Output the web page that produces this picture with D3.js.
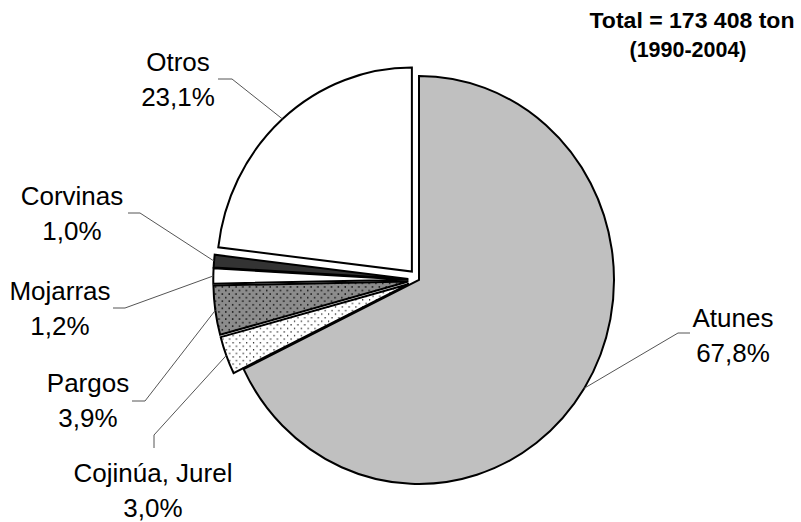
<!DOCTYPE html>
<html>
<head>
<meta charset="utf-8">
<script src="https://cdn.jsdelivr.net/npm/d3@7"></script>
<style>
  body { margin: 0; background: #fff; }
  text { font-family: "Liberation Sans", Arial, sans-serif; fill: #000; }
</style>
</head>
<body>
<div id="chart"></div>
<script>
// categories and shares (percent), clockwise from 12 o'clock
const species = ["Atunes", "Cojinúa, Jurel", "Pargos", "Mojarras", "Corvinas", "Otros"];
const shares = [67.8, 3.0, 3.9, 1.2, 1.0, 23.1];
const shareLabels = ["67,8%", "3,0%", "3,9%", "1,2%", "1,0%", "23,1%"];
const exploded = [false, true, true, true, true, true];

const titleLines = ["Total = 173 408 ton", "(1990-2004)"];

// label placement: [text x, first baseline] and the short leader stub [x1,y1,x2,y2]
const labelPos = [[733, 327], [153, 482], [88, 392], [60, 300], [72, 205], [178, 71]];
const stubs = [
  [690, 333, 678, 333],
  [154, 448, 154, 435],
  [132, 401, 145, 401],
  [113, 308, 125, 308],
  [128, 213, 140, 213],
  [218, 79, 232, 79]
];

const width = 801, height = 522;
const cx = 419, cy = 280;   // pie centre
const rx = 195, ry = 204;   // the original pie is a touch taller than wide
const r = 200, explodeBy = 11;

const svg = d3.select("#chart").append("svg")
  .attr("width", width)
  .attr("height", height);

// fill patterns
const defs = svg.append("defs");

// sparse dots on white (Cojinúa, Jurel)
let p1 = defs.append("pattern").attr("id", "dots")
  .attr("patternUnits", "userSpaceOnUse")
  .attr("width", 7).attr("height", 7);
p1.append("rect").attr("width", 7).attr("height", 7).attr("fill", "#fff");
p1.append("rect").attr("x", 1).attr("y", 1).attr("width", 1.2).attr("height", 1.2).attr("fill", "#000");
p1.append("rect").attr("x", 4.5).attr("y", 4.5).attr("width", 1.2).attr("height", 1.2).attr("fill", "#000");

// grey dither with dots (Pargos)
let p2 = defs.append("pattern").attr("id", "dither")
  .attr("patternUnits", "userSpaceOnUse")
  .attr("width", 7).attr("height", 7);
p2.append("rect").attr("width", 7).attr("height", 7).attr("fill", "#8c8c8c");
p2.append("rect").attr("x", 1).attr("y", 1).attr("width", 1.5).attr("height", 1.5).attr("fill", "#111");
p2.append("rect").attr("x", 4.5).attr("y", 4.5).attr("width", 1.5).attr("height", 1.5).attr("fill", "#111");

const fills = ["#c0c0c0", "url(#dots)", "url(#dither)", "#fff", "#333", "#fff"];

const pie = d3.pie().sort(null).startAngle(0).endAngle(2 * Math.PI);
const arcs = pie(shares);

const arc = d3.arc().innerRadius(0).outerRadius(r);

// offset of a slice along its mid angle
function shift(d, i) {
  if (!exploded[i]) return [0, 0];
  let a = (d.startAngle + d.endAngle) / 2;
  return [explodeBy * Math.sin(a), -explodeBy * Math.cos(a)];
}

const g = svg.append("g")
  .attr("transform", "translate(" + cx + "," + cy + ") scale(" + (rx / r) + "," + (ry / r) + ")");

g.selectAll("path")
  .data(arcs)
  .enter()
  .append("path")
  .attr("transform", (d, i) => "translate(" + shift(d, i) + ")")
  .attr("d", arc)
  .attr("fill", (d, i) => fills[i])
  .attr("stroke", "#000")
  .attr("stroke-width", 2)
  .attr("stroke-linejoin", "miter")
  .attr("vector-effect", "non-scaling-stroke");

// leader lines: stub + line to the rim at the slice's mid angle
function rimPoint(d, i) {
  let a = (d.startAngle + d.endAngle) / 2;
  let s = shift(d, i);
  return [cx + (s[0] + r * Math.sin(a)) * rx / r,
          cy + (s[1] - r * Math.cos(a)) * ry / r];
}

const leaders = svg.append("g").attr("class", "leaders");
arcs.forEach(function(d, i) {
  let st = stubs[i];
  let p = rimPoint(d, i);
  leaders.append("polyline")
    .attr("points", [[st[0], st[1]], [st[2], st[3]], p].map(q => q.join(",")).join(" "))
    .attr("fill", "none")
    .attr("stroke", "#555")
    .attr("stroke-width", 1);
});

// slice labels
const labels = svg.append("g").attr("class", "labels");
species.forEach(function(name, i) {
  let t = labels.append("text")
    .attr("x", labelPos[i][0])
    .attr("y", labelPos[i][1])
    .attr("text-anchor", "middle")
    .style("font-size", "26px");
  t.append("tspan").attr("x", labelPos[i][0]).text(name);
  t.append("tspan").attr("x", labelPos[i][0]).attr("dy", 35).text(shareLabels[i]);
});

// total in the corner
svg.append("text")
  .attr("x", 692).attr("y", 28)
  .attr("text-anchor", "middle")
  .attr("textLength", 205)
  .attr("lengthAdjust", "spacingAndGlyphs")
  .style("font-size", "22px").style("font-weight", "bold")
  .text(titleLines[0]);
svg.append("text")
  .attr("x", 688).attr("y", 57)
  .attr("text-anchor", "middle")
  .attr("textLength", 117)
  .attr("lengthAdjust", "spacingAndGlyphs")
  .style("font-size", "22px").style("font-weight", "bold")
  .text(titleLines[1]);
</script>
</body>
</html>
